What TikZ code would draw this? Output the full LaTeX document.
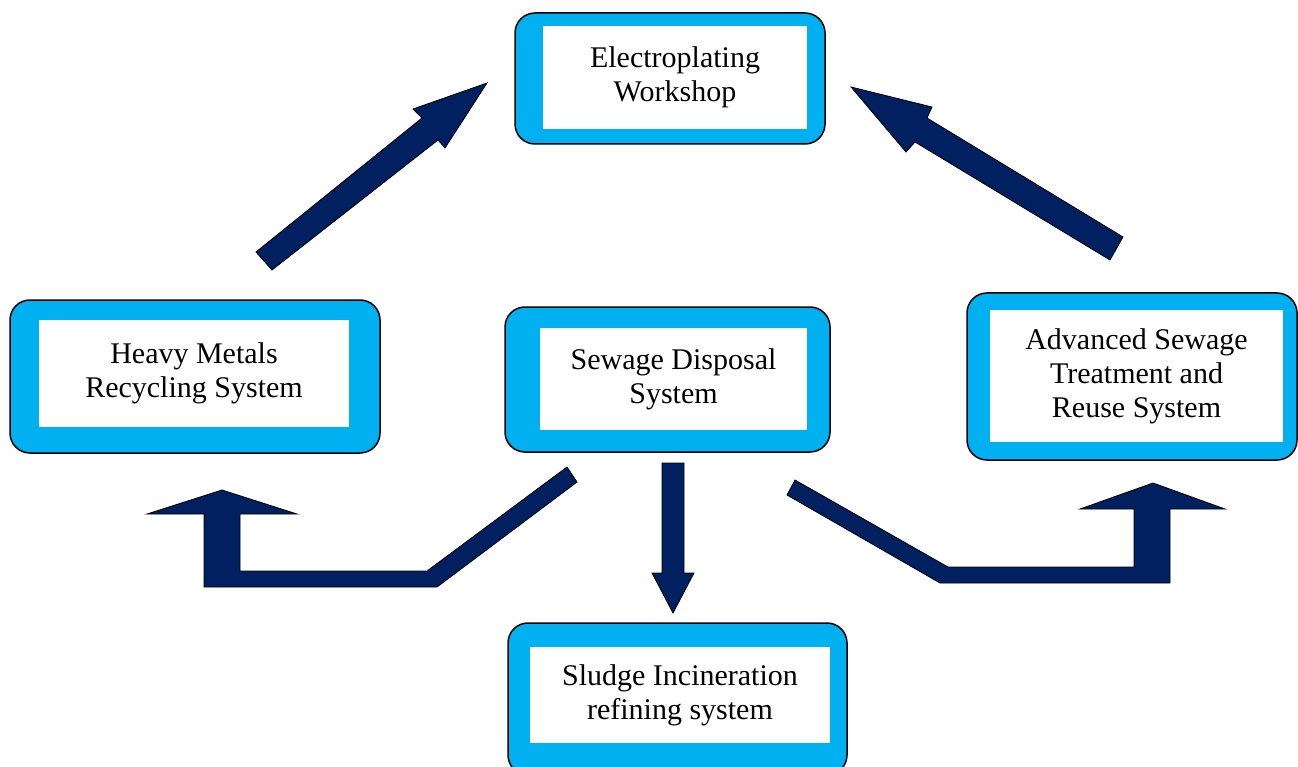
\documentclass[tikz,border=0pt]{standalone}
\usepackage{fontspec}
\setmainfont{Liberation Serif}
\definecolor{framecyan}{HTML}{00B0F0}
\definecolor{arrownavy}{HTML}{002060}

\begin{document}
\begin{tikzpicture}[x=1pt,y=-1pt,
  outerbox/.style={draw=black, line width=1.5pt, fill=framecyan,
    rounded corners=20pt, inner sep=0pt},
  innerbox/.style={fill=white, inner sep=0pt, align=center,
    font=\fontsize{30}{34}\selectfont},
  blockarrow/.style={fill=arrownavy, draw=black, line width=0.8pt,
    line join=miter}]
\useasboundingbox (0,0) rectangle (1298,767);

% framed boxes: cyan rounded frame with a white text panel
\node[outerbox, minimum width=310pt, minimum height=131pt] (work) at (670,78.5) {};
\node[innerbox, minimum width=264pt, minimum height=103pt] (workt) at (675,77.5)
  {Electroplating\\Workshop};

\node[outerbox, minimum width=370pt, minimum height=153pt] (heavy) at (195,376.5) {};
\node[innerbox, minimum width=310pt, minimum height=107pt] (heavyt) at (194,373.5)
  {Heavy Metals\\Recycling System};

\node[outerbox, minimum width=325pt, minimum height=145pt] (sewage) at (667.5,379.5) {};
\node[innerbox, minimum width=267pt, minimum height=102pt] (sewaget) at (673.5,379)
  {Sewage Disposal\\System};

\node[outerbox, minimum width=330pt, minimum height=167pt] (adv) at (1132,376.5) {};
\node[innerbox, minimum width=293pt, minimum height=132pt] (advt) at (1136.5,376)
  {Advanced Sewage\\Treatment and\\Reuse System};

\node[outerbox, minimum width=339pt, minimum height=152pt] (sludge) at (677.5,699) {};
\node[innerbox, minimum width=300pt, minimum height=96pt] (sludget) at (680,695)
  {Sludge Incineration\\refining system};

% block arrows
% heavy metals -> workshop
\draw[blockarrow] (256,252) -- (422,118) -- (413,109) -- (487,83) -- (445,148)
  -- (438,140) -- (272,270) -- cycle;
% advanced treatment -> workshop
\draw[blockarrow] (1123,237) -- (927,118) -- (932,107) -- (851,87) -- (906,152)
  -- (915,142) -- (1110,260) -- cycle;
% sewage disposal -> sludge incineration
\draw[blockarrow] (662,463) -- (684,463) -- (684,573) -- (694,573) -- (673,613)
  -- (652,573) -- (662,573) -- cycle;
% sewage disposal -> heavy metals (bent)
\draw[blockarrow] (567,467) -- (577,482) -- (437,587) -- (204,587) -- (204,514)
  -- (147,514) -- (222,490) -- (297,514) -- (240,514) -- (240,571) -- (427,571) -- cycle;
% sewage disposal -> advanced treatment (bent)
\draw[blockarrow] (795,480) -- (948,567) -- (1134,567) -- (1134,509) -- (1080,509)
  -- (1153,483) -- (1225,509) -- (1170,509) -- (1170,583) -- (940,583) -- (787,495) -- cycle;
\end{tikzpicture}
\end{document}
